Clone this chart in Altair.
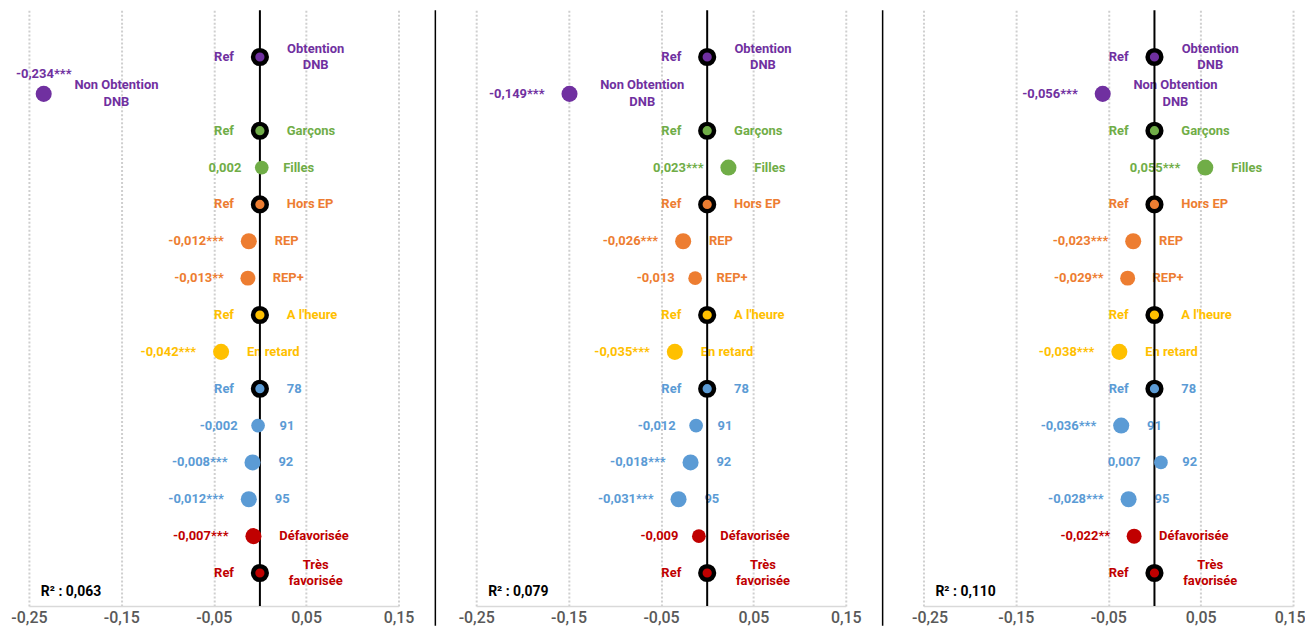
import altair as alt
import pandas as pd

# ---------------- data ----------------
categories = ["Obtention\nDNB", "Non Obtention\nDNB", "Garçons", "Filles", "Hors EP",
              "REP", "REP+", "A l'heure", "En retard", "78", "91", "92", "95",
              "Défavorisée", "Très\nfavorisée"]
groups = ["DNB", "DNB", "Sexe", "Sexe", "EP", "EP", "EP", "Retard", "Retard",
          "Dep", "Dep", "Dep", "Dep", "Social", "Social"]

coef_1 = [None, -0.234, None, 0.002, None, -0.012, -0.013, None, -0.042, None, -0.002, -0.008, -0.012, -0.007, None]
stars_1 = ["", "***", "", "", "", "***", "**", "", "***", "", "", "***", "***", "***", ""]
coef_2 = [None, -0.149, None, 0.023, None, -0.026, -0.013, None, -0.035, None, -0.012, -0.018, -0.031, -0.009, None]
stars_2 = ["", "***", "", "***", "", "***", "", "", "***", "", "", "***", "***", "", ""]
coef_3 = [None, -0.056, None, 0.055, None, -0.023, -0.029, None, -0.038, None, -0.036, 0.007, -0.028, -0.022, None]
stars_3 = ["", "***", "", "***", "", "***", "**", "", "***", "", "***", "", "***", "**", ""]
r2_values = [0.063, 0.079, 0.110]

tick_values = [-0.25, -0.15, -0.05, 0.05, 0.15]

group_domain = ["DNB", "Sexe", "EP", "Retard", "Dep", "Social"]
group_colors = ["#7030A0", "#70AD47", "#ED7D31", "#FFC000", "#5B9BD5", "#C00000"]

# ---------------- style ----------------
W, H = 371, 598
FONT = "Roboto"
FS = 13
RADIUS = {"ref": 10, "big": 9, "mid": 8, "small": 4.5}
SIZES = {"ref": 189, "big": 260, "mid": 190, "small": 66}


def fmt(v):
    return f"{v:.3f}".replace(".", ",")


def build_df(coefs, stars):
    rows = []
    for i, cat in enumerate(categories):
        ref = coefs[i] is None
        if ref:
            kind = "ref"
        elif stars[i] == "***":
            kind = "big"
        elif stars[i] == "**":
            kind = "mid"
        else:
            kind = "small"
        rows.append({
            "row": i,
            "cat": cat,
            "multi": "\n" in cat,
            "group": groups[i],
            "coef": 0.0 if ref else coefs[i],
            "kind": kind,
            "vlabel": "Ref" if ref else fmt(coefs[i]) + stars[i],
        })
    return pd.DataFrame(rows)


def x_enc(last):
    extra = dict(labelFlush=True, labelFlushOffset=12) if last else dict(labelFlush=False)
    return alt.X("coef:Q",
                 scale=alt.Scale(domain=[-0.25, 0.15], nice=False, zero=False),
                 axis=alt.Axis(values=tick_values, title=None, grid=True,
                               gridDash=[2, 2], gridColor="#cfcfcf", gridWidth=2,
                               ticks=False, domainColor="#d9d9d9", domainWidth=1.5,
                               labelFont=FONT, labelFontSize=16, labelColor="#595959",
                               labelFontWeight=500, labelPadding=4,
                               labelExpr="replace(replace(format(datum.value, '.2f'), '.', ','), '\u2212', '-')",
                               **extra))


y_enc = alt.Y("row:Q", scale=alt.Scale(domain=[-1.2703, 14.892], reverse=True, nice=False, zero=False),
              axis=None)
color_enc = alt.Color("group:N", scale=alt.Scale(domain=group_domain, range=group_colors), legend=None)


def panel(idx, coefs, stars, r2, last=False):
    df = build_df(coefs, stars)
    xe = x_enc(last)
    base = alt.Chart(df).encode(x=xe, y=y_enc)
    layers = []

    # text labels
    for k, r in RADIUS.items():
        layers.append(base.transform_filter(f"datum.kind == '{k}' && !datum.multi").mark_text(
            align="left", baseline="middle", dx=r + 17, font=FONT, fontSize=FS, fontWeight="bold"
        ).encode(text="cat:N", color=color_enc))
        layers.append(base.transform_filter(f"datum.kind == '{k}' && datum.coef >= -0.2").mark_text(
            align="right", baseline="middle", dx=-(r + 16), font=FONT, fontSize=FS, fontWeight="bold"
        ).encode(text="vlabel:N", color=color_enc))
    # multi-line category labels
    layers.append(base.transform_filter("datum.kind == 'ref' && datum.multi").mark_text(
        align="center", baseline="middle", dx=56, dy=-8.5, lineBreak="\n", lineHeight=17,
        font=FONT, fontSize=FS, fontWeight="bold"
    ).encode(text="cat:N", color=color_enc))
    layers.append(base.transform_filter("datum.kind != 'ref' && datum.multi").mark_text(
        align="center", baseline="middle", dx=73, dy=-8.5, lineBreak="\n", lineHeight=17,
        font=FONT, fontSize=FS, fontWeight="bold"
    ).encode(text="cat:N", color=color_enc))
    # value label above a point that sits at the far left
    layers.append(base.transform_filter("datum.kind != 'ref' && datum.coef < -0.2").mark_text(
        align="center", baseline="middle", dy=-20, font=FONT, fontSize=FS, fontWeight="bold"
    ).encode(text="vlabel:N", color=color_enc))

    # zero line
    layers.append(alt.Chart(df).transform_filter("datum.row == 0").mark_rule(
        color="black", strokeWidth=2
    ).encode(x=alt.datum(0), y=alt.value(0), y2=alt.value(H)))

    # separator between panels
    if idx > 0:
        layers.append(alt.Chart(df).transform_filter("datum.row == 0").mark_rule(
            color="black", strokeWidth=1.5
        ).encode(x=alt.value(-41), y=alt.value(0), y2=alt.value(H + 20)))

    # points
    layers.append(base.transform_filter("datum.kind != 'ref'").mark_circle(opacity=1).encode(
        color=color_enc,
        size=alt.Size("kind:N", scale=alt.Scale(domain=["big", "mid", "small"],
                                                range=[SIZES["big"], SIZES["mid"], SIZES["small"]]),
                      legend=None)))
    layers.append(base.transform_filter("datum.kind == 'ref'").mark_circle(
        opacity=1, stroke="black", strokeWidth=4.5, size=SIZES["ref"]
    ).encode(color=color_enc))

    # R² text
    r2_df = pd.DataFrame({"t": ["R\u00b2 : " + f"{r2:.3f}".replace(".", ",")]})
    layers.append(alt.Chart(r2_df).mark_text(
        align="left", baseline="middle", font=FONT, fontSize=14, fontWeight="bold", color="black"
    ).encode(text="t:N", x=alt.value(12), y=alt.value(H - 14)))

    return alt.layer(*layers).properties(width=W, height=H)


panels = [panel(0, coef_1, stars_1, r2_values[0]),
          panel(1, coef_2, stars_2, r2_values[1]),
          panel(2, coef_3, stars_3, r2_values[2], last=True)]

chart = alt.HConcatChart(hconcat=panels, spacing=78, bounds="flush").properties(
    padding={"left": 2, "top": 0, "right": 0, "bottom": 0}
).configure_view(stroke=None)

chart.save("out.html", embed_options={"renderer": "svg", "actions": False})
